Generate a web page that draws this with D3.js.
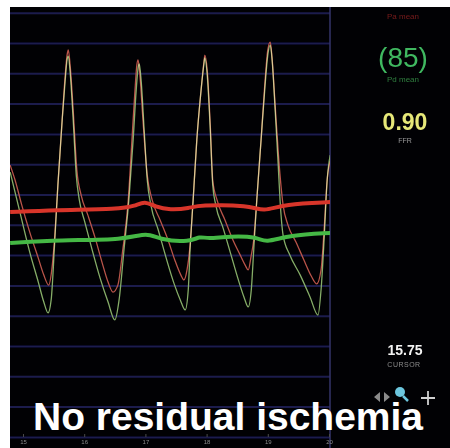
<!DOCTYPE html>
<html>
<head>
<meta charset="utf-8">
<script src="https://cdn.jsdelivr.net/npm/d3@7"></script>
<style>
html, body { margin: 0; padding: 0; background: #fff; }
svg { display: block; }
text { font-family: "Liberation Sans", Arial, sans-serif; }
</style>
</head>
<body>
<svg id="chart" width="450" height="448"></svg>
<script>
// time (s) ticks along the bottom
var timeTicks = [15, 16, 17, 18, 19, 20];
// horizontal grid levels (mmHg)
var gridLevels = [20, 30, 40, 50, 60, 70, 80, 90, 100, 110, 120, 130, 140, 150, 160];

// Pd (distal) pressure trace, [time s, mmHg]
var pdTrace = [
	[14.79, 107.4], [14.87, 100.8], [14.98, 91.6], [15.11, 81.0], [15.25, 71.1], [15.34, 64.5], [15.41, 60.9],
	[15.46, 65.2], [15.52, 85.0], [15.57, 103.1], [15.64, 124.6], [15.69, 137.8], [15.72, 144.4], [15.74, 145.7],
	[15.77, 140.4], [15.82, 124.6], [15.87, 106.4], [15.92, 98.2], [16.01, 90.9], [16.13, 81.7], [16.26, 72.4],
	[16.39, 64.5], [16.50, 58.6],
	[16.57, 65.2], [16.65, 81.7], [16.73, 98.2], [16.80, 118.0], [16.85, 134.5], [16.88, 141.7], [16.90, 143.1],
	[16.93, 137.8], [16.98, 121.3], [17.03, 104.8], [17.09, 96.5], [17.21, 88.3], [17.34, 79.0], [17.47, 70.5],
	[17.57, 65.2], [17.65, 61.9],
	[17.70, 68.5], [17.73, 81.7], [17.78, 98.2], [17.84, 118.0], [17.91, 134.5], [17.96, 143.7], [17.97, 145.1],
	[18.01, 139.4], [18.06, 121.3], [18.10, 103.1], [18.15, 96.5], [18.27, 88.9], [18.40, 80.0], [18.51, 72.4],
	[18.61, 66.2], [18.68, 62.9],
	[18.73, 68.5], [18.77, 81.7], [18.82, 98.2], [18.89, 118.0], [18.95, 134.5], [19.00, 146.0], [19.04, 149.3],
	[19.07, 144.4], [19.12, 127.9], [19.17, 109.7], [19.20, 98.2], [19.25, 86.6], [19.36, 80.0], [19.53, 73.4],
	[19.69, 66.2], [19.82, 60.2],
	[19.87, 68.5], [19.92, 85.0], [19.97, 104.8], [20.02, 113.0]
];

// Pa (aortic) pressure trace, [time s, mmHg]
var paTrace = [
	[14.79, 109.7], [14.87, 104.8], [14.98, 96.5], [15.11, 87.6], [15.25, 79.0], [15.34, 73.4], [15.42, 70.1],
	[15.47, 75.1], [15.52, 86.6], [15.57, 103.1], [15.64, 124.6], [15.69, 139.4], [15.72, 146.0], [15.74, 147.7],
	[15.77, 142.7], [15.82, 127.9], [15.88, 108.1], [15.95, 99.8], [16.06, 93.2], [16.18, 85.6], [16.29, 77.7],
	[16.39, 71.1], [16.47, 67.8],
	[16.55, 70.1], [16.63, 81.7], [16.72, 98.2], [16.78, 118.0], [16.83, 134.5], [16.86, 142.7], [16.88, 144.4],
	[16.91, 139.4], [16.96, 124.6], [17.03, 106.4], [17.11, 98.2], [17.24, 91.6], [17.37, 85.0], [17.48, 78.4],
	[17.58, 73.4], [17.63, 71.8],
	[17.68, 75.1], [17.73, 83.3], [17.78, 98.2], [17.84, 118.0], [17.91, 134.5], [17.96, 144.4], [17.97, 146.0],
	[18.01, 141.1], [18.06, 122.9], [18.10, 104.8], [18.17, 98.2], [18.30, 91.6], [18.43, 85.0], [18.55, 80.0],
	[18.63, 76.7], [18.68, 75.1],
	[18.73, 80.0], [18.77, 85.0], [18.82, 98.2], [18.89, 118.0], [18.95, 136.1], [19.00, 147.7], [19.04, 150.3],
	[19.07, 145.1], [19.12, 129.5], [19.18, 111.4], [19.25, 96.5], [19.33, 89.9], [19.46, 84.3], [19.59, 78.4],
	[19.71, 73.1], [19.80, 70.5],
	[19.87, 75.1], [19.92, 88.3], [19.97, 104.8], [20.02, 111.0]
];

// running means, [time s, mmHg]
var paMean = [
	[14.79, 94.2], [15.52, 94.9], [16.58, 95.2], [16.83, 96.2], [16.99, 97.9], [17.16, 95.9], [17.40, 94.9],
	[17.73, 95.5], [17.86, 96.5], [18.71, 96.5], [18.92, 94.2], [19.28, 96.9], [20.02, 97.5]
];
var pdMean = [
	[14.79, 84.0], [15.60, 85.0], [16.67, 85.0], [17.03, 87.6], [17.24, 85.0], [17.73, 84.3], [17.89, 86.3],
	[18.01, 85.3], [18.38, 86.3], [18.84, 86.0], [18.95, 84.0], [19.36, 86.6], [20.02, 87.3]
];

var cursorTime = 15.78;
var pdMeanValue = 85;
var ffrValue = 0.90;
var cursorValue = 15.75;
var caption = "No residual ischemia";

document.addEventListener("DOMContentLoaded", init)

function init() {
	var svg = d3.select("#chart");
	var plot = {left: 10, right: 330, top: 7, bottom: 448};

	var x = d3.scaleLinear().domain([15, 20]).range([23, 329]);
	var y = d3.scaleLinear().domain([0, 160]).range([497.5, 12.7]);

	var defs = svg.append("defs");
	defs.append("clipPath").attr("id", "plotclip")
	    .append("rect")
	    .attr("x", plot.left).attr("y", plot.top)
	    .attr("width", plot.right - plot.left).attr("height", plot.bottom - plot.top);
	defs.append("filter").attr("id", "soft")
	    .attr("x", "-5%").attr("y", "-5%").attr("width", "110%").attr("height", "110%")
	    .append("feGaussianBlur").attr("stdDeviation", 0.6);

	// the monitor screen
	svg.append("rect")
	   .attr("x", plot.left).attr("y", plot.top)
	   .attr("width", 450 - plot.left).attr("height", 448 - plot.top)
	   .attr("fill", "#010104");

	// grid
	let grid = svg.append("g")
		.attr("transform", "translate(" + plot.left + ",0)")
		.attr("filter", "url(#soft)")
		.call(d3.axisLeft(y).tickValues(gridLevels).tickSize(-(plot.right - plot.left)).tickFormat(""));
	grid.select(".domain").remove();
	grid.selectAll("line").attr("stroke", "#1d1d4e").attr("stroke-width", 2);

	svg.append("line")
	   .attr("x1", plot.right).attr("x2", plot.right)
	   .attr("y1", plot.top).attr("y2", plot.bottom)
	   .attr("stroke", "#34346a").attr("stroke-width", 1.5);

	// time axis
	let xAxis = svg.append("g")
		.attr("transform", "translate(0,434)")
		.attr("filter", "url(#soft)")
		.call(d3.axisBottom(x).tickValues(timeTicks).tickSize(3).tickPadding(3).tickFormat(d3.format("d")));
	xAxis.select(".domain").remove();
	xAxis.selectAll("line").attr("stroke", "#4a4a4a");
	xAxis.selectAll("text")
	     .attr("fill", "#8a8a8a")
	     .style("font-size", "6px")
	     .style("font-family", "'Liberation Sans', Arial, sans-serif");

	// pressure traces
	var trace = d3.line()
		.x(d => x(d[0]))
		.y(d => y(d[1]))
		.curve(d3.curveMonotoneX);
	var mean = d3.line()
		.x(d => x(d[0]))
		.y(d => y(d[1]))
		.curve(d3.curveBasis);

	let traces = svg.append("g")
		.attr("clip-path", "url(#plotclip)")
		.append("g")
		.attr("filter", "url(#soft)");

	traces.append("path")
	      .datum(pdTrace)
	      .attr("d", trace)
	      .attr("fill", "none")
	      .attr("stroke", "#86ad68")
	      .attr("stroke-width", 1.3)
	      .style("mix-blend-mode", "screen");
	traces.append("path")
	      .datum(paTrace)
	      .attr("d", trace)
	      .attr("fill", "none")
	      .attr("stroke", "#b9544a")
	      .attr("stroke-width", 1.3)
	      .style("mix-blend-mode", "screen");

	traces.append("path")
	      .datum(paMean)
	      .attr("d", mean)
	      .attr("fill", "none")
	      .attr("stroke", "#d8362c")
	      .attr("stroke-width", 4);
	traces.append("path")
	      .datum(pdMean)
	      .attr("d", mean)
	      .attr("fill", "none")
	      .attr("stroke", "#44b845")
	      .attr("stroke-width", 4);

	// cursor
	svg.append("line")
	   .attr("x1", x(cursorTime)).attr("x2", x(cursorTime))
	   .attr("y1", plot.top).attr("y2", plot.bottom)
	   .attr("stroke", "#d9d3aa")
	   .attr("stroke-width", 1.6)
	   .attr("filter", "url(#soft)");

	// readouts on the right
	let panel = svg.append("g")
		.attr("text-anchor", "middle")
		.attr("filter", "url(#soft)");

	panel.append("text")
	     .attr("x", 403).attr("y", 19)
	     .attr("fill", "#7a1c1c")
	     .style("font-size", "8px")
	     .text("Pa mean");

	panel.append("text")
	     .attr("x", 403).attr("y", 67)
	     .attr("fill", "#3fb860")
	     .style("font-size", "28px")
	     .text("(" + pdMeanValue + ")");
	panel.append("text")
	     .attr("x", 403).attr("y", 82)
	     .attr("fill", "#2f7f3f")
	     .style("font-size", "8px")
	     .text("Pd mean");

	panel.append("text")
	     .attr("x", 405).attr("y", 130)
	     .attr("fill", "#e6e878")
	     .style("font-size", "23px")
	     .style("font-weight", "bold")
	     .text(ffrValue.toFixed(2));
	panel.append("text")
	     .attr("x", 405).attr("y", 143)
	     .attr("fill", "#9a9a9a")
	     .style("font-size", "7px")
	     .text("FFR");

	panel.append("text")
	     .attr("x", 405).attr("y", 355)
	     .attr("fill", "#f2f2f2")
	     .style("font-size", "14px")
	     .style("font-weight", "bold")
	     .text(cursorValue.toFixed(2));
	panel.append("text")
	     .attr("x", 404).attr("y", 367)
	     .attr("fill", "#8c8c8c")
	     .style("font-size", "7px")
	     .style("letter-spacing", "0.5px")
	     .text("CURSOR");

	// toolbar icons
	let icons = svg.append("g").attr("filter", "url(#soft)");
	icons.append("path")
	     .attr("d", "M374,397 L380,392 L380,402 Z M390,397 L384,392 L384,402 Z")
	     .attr("fill", "#8a8a8a");
	icons.append("circle")
	     .attr("cx", 400).attr("cy", 392).attr("r", 5)
	     .attr("fill", "#6cc6de");
	icons.append("line")
	     .attr("x1", 403).attr("y1", 396).attr("x2", 408).attr("y2", 401)
	     .attr("stroke", "#6cc6de").attr("stroke-width", 2.5);
	icons.append("path")
	     .attr("d", "M428,391 L428,405 M421,398 L435,398")
	     .attr("stroke", "#d0d0d0").attr("stroke-width", 1.8);

	// caption
	svg.append("text")
	   .attr("x", 33).attr("y", 430)
	   .attr("fill", "#ffffff")
	   .attr("textLength", 390)
	   .attr("lengthAdjust", "spacingAndGlyphs")
	   .style("font-size", "39px")
	   .style("font-weight", "bold")
	   .text(caption);

	// white frame edges
	svg.append("rect").attr("x", 0).attr("y", 0).attr("width", 450).attr("height", plot.top).attr("fill", "#fff");
	svg.append("rect").attr("x", 0).attr("y", 0).attr("width", plot.left).attr("height", 448).attr("fill", "#fff");
}
</script>
</body>
</html>
